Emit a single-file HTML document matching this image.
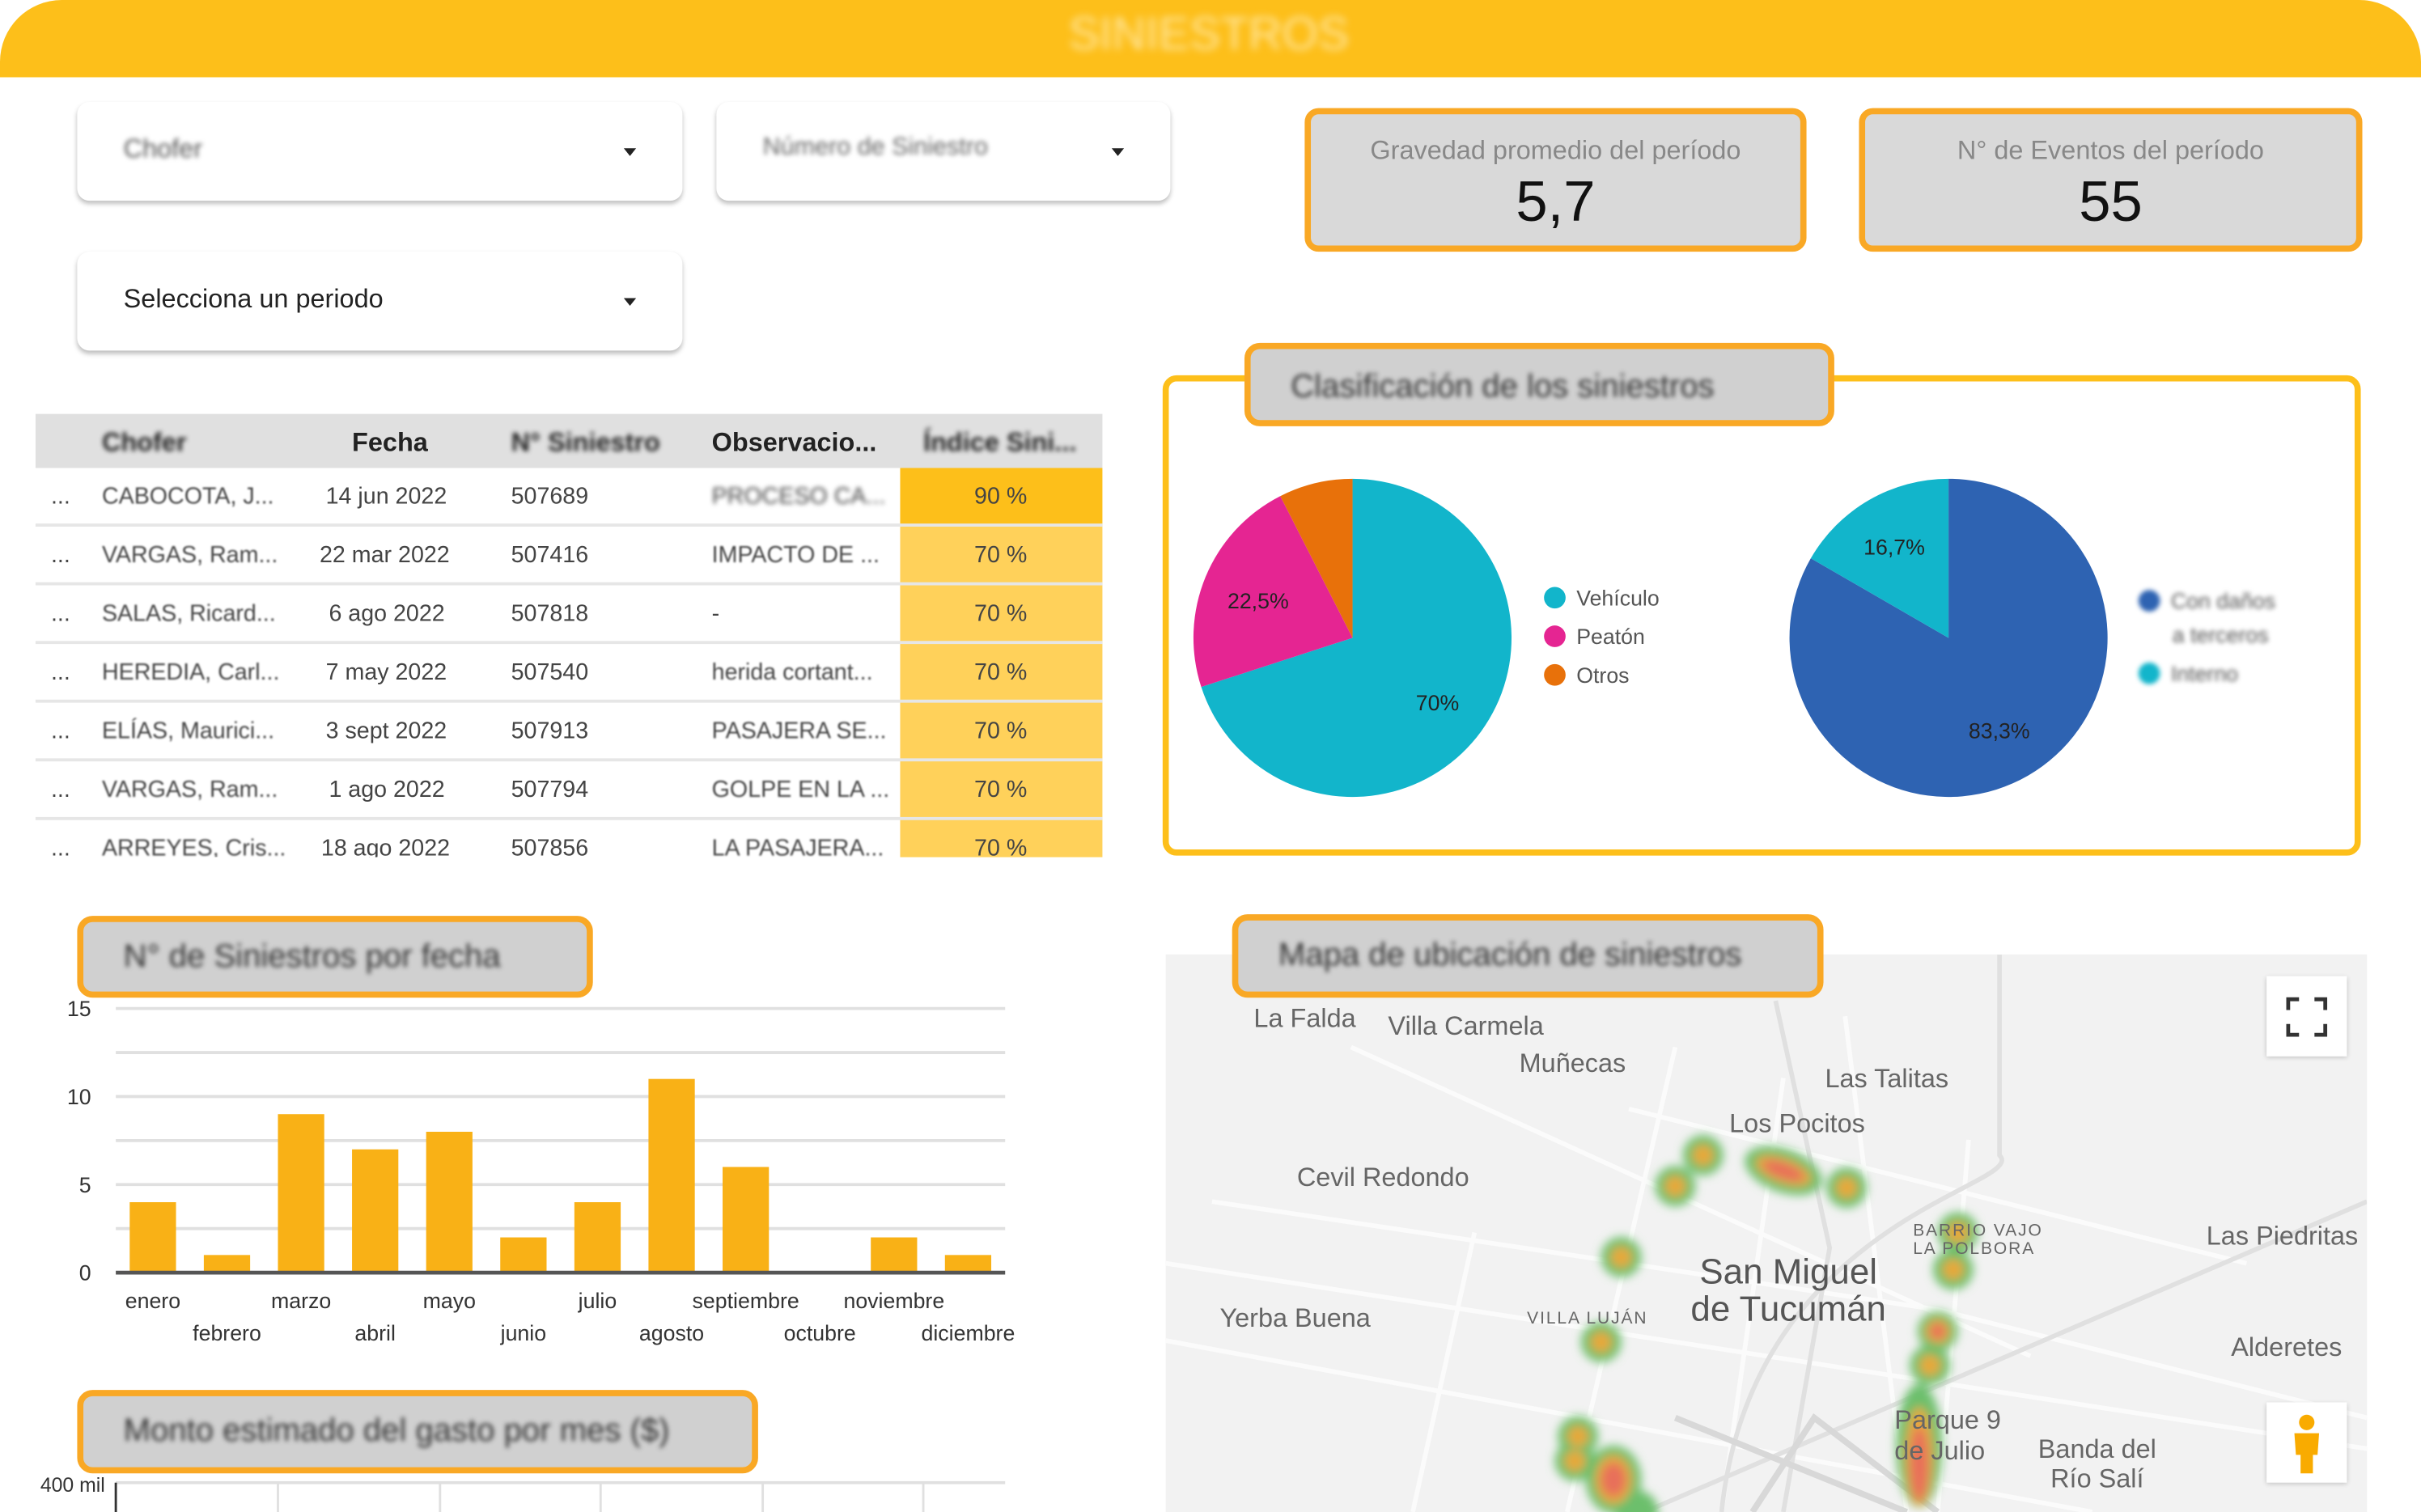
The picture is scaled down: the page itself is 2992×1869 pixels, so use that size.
<!DOCTYPE html>
<html><head><meta charset="utf-8"><style>
*{margin:0;padding:0;box-sizing:border-box}
body{width:2992px;height:1869px;overflow:hidden;background:#fff;font-family:"Liberation Sans",sans-serif}
#w{position:absolute;left:0;top:0;width:1568px;height:979px;transform-origin:0 0;transform:scale(1.90816,1.90909);background:#fff;overflow:hidden}
.a{position:absolute}
.bl{filter:blur(1.6px)}
.sb{filter:blur(0.6px)}
.dd{position:absolute;background:#fff;border-radius:8px;box-shadow:0 2px 3px rgba(0,0,0,.25);font-size:17px;color:#222}
.dd span{position:absolute;left:30px;top:21px}
.dd i{position:absolute;right:30px;top:30px;width:0;height:0;border-left:4px solid transparent;border-right:4px solid transparent;border-top:5px solid #222}
.kpi{position:absolute;background:#d9d9d9;border:4px solid #F9A825;border-radius:9px;text-align:center}
.kpi .l{font-size:17px;color:#888;margin-top:14px}
.kpi .v{font-size:37px;color:#111;margin-top:2px}
.tb{position:absolute;background:#d0d0d0;border:4px solid #F9A825;border-radius:10px;font-size:21px;color:#333;padding-left:26px;line-height:45px}
.row{position:absolute;left:23px;width:691px;height:38px;border-bottom:2px solid #e6e6e6;font-size:15px;color:#444}
.row span{position:absolute;top:10px;white-space:nowrap}
.lg{position:absolute;font-size:14px;color:#555}
.lg b{display:inline-block;width:14px;height:14px;border-radius:50%;vertical-align:-2px;margin-right:7px}
.ml{position:absolute;font-size:17px;color:#666;white-space:nowrap}
</style></head><body><div id="w">
<div class="a" style="left:0;top:0;width:1568px;height:50px;background:#FDBF1A;border-radius:40px 40px 0 0"></div>
<div class="a" style="left:692px;top:6px;font-size:30px;color:#ffe7a0;filter:blur(2.5px)">SINIESTROS</div>

<div class="dd" style="left:50px;top:66px;width:392px;height:64px"><span class="bl" style="color:#555">Chofer</span><i></i></div>
<div class="dd" style="left:464px;top:66px;width:294px;height:64px"><span class="bl" style="color:#666;font-size:16px">Número de Siniestro</span><i></i></div>
<div class="dd" style="left:50px;top:163px;width:392px;height:64px"><span>Selecciona un periodo</span><i></i></div>

<div class="kpi" style="left:845px;top:70px;width:325px;height:93px"><div class="l">Gravedad promedio del período</div><div class="v">5,7</div></div>
<div class="kpi" style="left:1204px;top:70px;width:326px;height:93px"><div class="l">N° de Eventos del período</div><div class="v">55</div></div>

<div class="a" style="left:23px;top:268px;width:691px;height:35px;background:#e0e0e0;font-size:17px;font-weight:bold;color:#222">
<span class="a bl" style="left:43px;top:9px">Chofer</span>
<span class="a" style="left:205px;top:9px">Fecha</span>
<span class="a bl" style="left:308px;top:9px">N° Siniestro</span>
<span class="a" style="left:438px;top:9px">Observacio...</span>
<span class="a bl" style="left:575px;top:9px">Índice Sini...</span>
</div>
<div class="a" style="left:583px;top:303px;width:131px;height:38px;background:#FDBF1A"></div>
<div class="a" style="left:583px;top:341px;width:131px;height:214px;background:#FFD15A"></div>
<div class="row" style="top:303px"><span style="left:10px">...</span><span class="sb" style="left:43px">CABOCOTA, J...</span><span style="left:188px">14 jun 2022</span><span style="left:308px">507689</span><span class="bl" style="left:438px">PROCESO CA...</span><span style="left:608px">90 %</span></div>
<div class="row" style="top:341px"><span style="left:10px">...</span><span class="sb" style="left:43px">VARGAS, Ram...</span><span style="left:184px">22 mar 2022</span><span style="left:308px">507416</span><span class="sb" style="left:438px">IMPACTO DE ...</span><span style="left:608px">70 %</span></div>
<div class="row" style="top:379px"><span style="left:10px">...</span><span class="sb" style="left:43px">SALAS, Ricard...</span><span style="left:190px">6 ago 2022</span><span style="left:308px">507818</span><span style="left:438px">-</span><span style="left:608px">70 %</span></div>
<div class="row" style="top:417px"><span style="left:10px">...</span><span class="sb" style="left:43px">HEREDIA, Carl...</span><span style="left:188px">7 may 2022</span><span style="left:308px">507540</span><span class="sb" style="left:438px">herida cortant...</span><span style="left:608px">70 %</span></div>
<div class="row" style="top:455px"><span style="left:10px">...</span><span class="sb" style="left:43px">ELÍAS, Maurici...</span><span style="left:188px">3 sept 2022</span><span style="left:308px">507913</span><span class="sb" style="left:438px">PASAJERA SE...</span><span style="left:608px">70 %</span></div>
<div class="row" style="top:493px"><span style="left:10px">...</span><span class="sb" style="left:43px">VARGAS, Ram...</span><span style="left:190px">1 ago 2022</span><span style="left:308px">507794</span><span class="sb" style="left:438px">GOLPE EN LA ...</span><span style="left:608px">70 %</span></div>
<div class="row" style="top:531px;height:24px;border:none;overflow:hidden"><span style="left:10px">...</span><span class="sb" style="left:43px">ARREYES, Cris...</span><span style="left:185px">18 ago 2022</span><span style="left:308px">507856</span><span class="sb" style="left:438px">LA PASAJERA...</span><span style="left:608px">70 %</span></div>

<div class="a" style="left:753px;top:243px;width:776px;height:311px;border:4px solid #FDBF1A;border-radius:9px"></div>
<div class="tb" style="left:806px;top:222px;width:382px;height:54px"><span class="bl" style="position:relative;top:2px">Clasificación de los siniestros</span></div>
<svg class="a" style="left:0;top:0" width="1568" height="979">
<path d="M876,413 L876,310 A103,103 0 1,1 778.0,444.8 Z" fill="#12B5CB"/>
<path d="M876,413 L778.0,444.8 A103,103 0 0,1 829.2,321.2 Z" fill="#E52592"/>
<path d="M876,413 L829.2,321.2 A103,103 0 0,1 876,310 Z" fill="#E8710A"/>
<path d="M1262,413 L1262,310 A103,103 0 1,1 1172.8,361.5 Z" fill="#2E63B2"/>
<path d="M1262,413 L1172.8,361.5 A103,103 0 0,1 1262,310 Z" fill="#12B5CB"/>
<g font-size="14" fill="#222" font-family="Liberation Sans">
<text x="917" y="460">70%</text><text x="795" y="394">22,5%</text>
<text x="1207" y="359">16,7%</text><text x="1275" y="478">83,3%</text></g>
</svg>
<div class="lg" style="left:1000px;top:379px"><b style="background:#12B5CB"></b>Vehículo</div>
<div class="lg" style="left:1000px;top:404px"><b style="background:#E52592"></b>Peatón</div>
<div class="lg" style="left:1000px;top:429px"><b style="background:#E8710A"></b>Otros</div>
<div class="lg bl" style="left:1385px;top:381px"><b style="background:#2E63B2"></b>Con daños</div>
<div class="lg bl" style="left:1407px;top:403px">a terceros</div>
<div class="lg bl" style="left:1385px;top:428px"><b style="background:#12B5CB"></b>Interno</div>

<div class="tb" style="left:50px;top:593px;width:334px;height:53px"><span class="bl">N° de Siniestros por fecha</span></div>
<svg class="a" style="left:0;top:0" width="1568" height="979" font-family="Liberation Sans">
<g stroke="#e0e0e0" stroke-width="2">
<line x1="75" x2="651" y1="653" y2="653"/><line x1="75" x2="651" y1="681.5" y2="681.5"/><line x1="75" x2="651" y1="710" y2="710"/><line x1="75" x2="651" y1="738.5" y2="738.5"/><line x1="75" x2="651" y1="767" y2="767"/><line x1="75" x2="651" y1="795.5" y2="795.5"/></g>
<g fill="#F9B116">
<rect x="84" y="778.4" width="30" height="45.6"/><rect x="132" y="812.6" width="30" height="11.4"/><rect x="180" y="721.4" width="30" height="102.6"/><rect x="228" y="744.2" width="30" height="79.8"/><rect x="276" y="732.8" width="30" height="91.2"/><rect x="324" y="801.2" width="30" height="22.8"/><rect x="372" y="778.4" width="30" height="45.6"/><rect x="420" y="698.6" width="30" height="125.4"/><rect x="468" y="755.6" width="30" height="68.4"/><rect x="564" y="801.2" width="30" height="22.8"/><rect x="612" y="812.6" width="30" height="11.4"/></g>
<line x1="75" x2="651" y1="824" y2="824" stroke="#555" stroke-width="2.5"/>
<g font-size="14" fill="#333" text-anchor="end"><text x="59" y="658">15</text><text x="59" y="715">10</text><text x="59" y="772">5</text><text x="59" y="829">0</text></g>
<g font-size="14" fill="#333" text-anchor="middle">
<text x="99" y="847">enero</text><text x="147" y="868">febrero</text><text x="195" y="847">marzo</text><text x="243" y="868">abril</text><text x="291" y="847">mayo</text><text x="339" y="868">junio</text><text x="387" y="847">julio</text><text x="435" y="868">agosto</text><text x="483" y="847">septiembre</text><text x="531" y="868">octubre</text><text x="579" y="847">noviembre</text><text x="627" y="868">diciembre</text></g>
<line x1="75" x2="651" y1="960" y2="960" stroke="#e0e0e0" stroke-width="2"/>
<g stroke="#e0e0e0" stroke-width="1.5"><line x1="180" x2="180" y1="960" y2="979"/><line x1="285" x2="285" y1="960" y2="979"/><line x1="389" x2="389" y1="960" y2="979"/><line x1="494" x2="494" y1="960" y2="979"/><line x1="598" x2="598" y1="960" y2="979"/></g>
<line x1="75" x2="75" y1="960" y2="979" stroke="#333" stroke-width="1.5"/>
<text x="68" y="966" font-size="13" fill="#333" text-anchor="end">400 mil</text>
</svg>
<div class="tb" style="left:50px;top:900px;width:441px;height:54px"><span class="bl">Monto estimado del gasto por mes ($)</span></div>

<div class="a" style="left:755px;top:618px;width:778px;height:361px;background:#f2f2f2;overflow:hidden">
<svg width="778" height="361" style="position:absolute;left:0;top:0">
<defs><filter id="f"><feGaussianBlur stdDeviation="3"/></filter></defs>
<g stroke="#fbfbfb" stroke-width="3" fill="none">
<path d="M0,200 L778,320"/><path d="M0,250 L600,361"/><path d="M30,160 L500,230 L778,300"/><path d="M330,60 L260,361"/><path d="M400,80 L360,361"/><path d="M120,60 L560,260"/><path d="M440,40 L480,361"/><path d="M300,100 L700,200"/><path d="M520,120 L500,361"/><path d="M200,180 L160,361"/>
</g>
<g stroke="#e0e0e0" stroke-width="3" fill="none"><path d="M395,30 L430,190 L400,361"/><path d="M310,361 L778,160"/><path d="M540,0 L540,130 C560,150 380,170 360,361"/></g>
<g stroke="#d8d8d8" stroke-width="4" fill="none"><path d="M380,361 L420,300 L500,361"/><path d="M330,300 L480,361"/></g>
<g filter="url(#f)">
<g fill="#6cbf6c">
<circle cx="348" cy="130" r="13"/><circle cx="330" cy="150" r="13"/><ellipse cx="400" cy="140" rx="26" ry="14" transform="rotate(20 400 140)"/><circle cx="441" cy="151" r="13"/><circle cx="295" cy="196" r="13"/><circle cx="513" cy="180" r="13"/><circle cx="510" cy="204" r="13"/><circle cx="500" cy="244" r="13"/><circle cx="495" cy="266" r="13"/><circle cx="282" cy="251" r="13"/><ellipse cx="488" cy="318" rx="15" ry="40"/><circle cx="267" cy="312" r="13"/><circle cx="265" cy="328" r="13"/><ellipse cx="290" cy="340" rx="18" ry="22"/><circle cx="305" cy="361" r="14"/></g>
<g fill="#e6a93a">
<circle cx="348" cy="130" r="7"/><circle cx="330" cy="150" r="7"/><ellipse cx="400" cy="140" rx="19" ry="8" transform="rotate(20 400 140)"/><circle cx="441" cy="151" r="7"/><circle cx="295" cy="196" r="7"/><circle cx="513" cy="180" r="7"/><circle cx="510" cy="204" r="7"/><circle cx="500" cy="244" r="8"/><circle cx="495" cy="266" r="7"/><circle cx="282" cy="251" r="7"/><ellipse cx="488" cy="325" rx="9" ry="32"/><circle cx="267" cy="312" r="7"/><circle cx="265" cy="328" r="7"/><ellipse cx="290" cy="340" rx="12" ry="16"/></g>
<g fill="#e8705a"><ellipse cx="400" cy="140" rx="14" ry="5" transform="rotate(20 400 140)"/><circle cx="500" cy="244" r="5"/><ellipse cx="488" cy="330" rx="6" ry="24"/><ellipse cx="290" cy="340" rx="8" ry="11"/></g>
</g>
</svg>
<div class="ml" style="left:57px;top:32px">La Falda</div>
<div class="ml" style="left:144px;top:37px">Villa Carmela</div>
<div class="ml" style="left:229px;top:61px">Muñecas</div>
<div class="ml" style="left:427px;top:71px">Las Talitas</div>
<div class="ml" style="left:365px;top:100px">Los Pocitos</div>
<div class="ml" style="left:85px;top:135px">Cevil Redondo</div>
<div class="ml" style="left:674px;top:173px">Las Piedritas</div>
<div class="ml" style="left:484px;top:173px;font-size:11px;line-height:12px;letter-spacing:1px">BARRIO VAJO<br>LA POLBORA</div>
<div class="ml" style="left:340px;top:193px;font-size:23px;line-height:24px;color:#555;text-align:center">San Miguel<br>de Tucumán</div>
<div class="ml" style="left:35px;top:226px">Yerba Buena</div>
<div class="ml" style="left:234px;top:230px;font-size:11px;letter-spacing:1px">VILLA LUJÁN</div>
<div class="ml" style="left:690px;top:245px">Alderetes</div>
<div class="ml" style="left:472px;top:292px;line-height:20px">Parque 9<br>de Julio</div>
<div class="ml" style="left:565px;top:311px;line-height:19px;text-align:center">Banda del<br>Río Salí</div>
<div class="a" style="left:713px;top:14px;width:52px;height:52px;background:#fff;box-shadow:0 1px 3px rgba(0,0,0,.2)">
<svg width="52" height="52"><g stroke="#333" stroke-width="2.5" fill="none"><path d="M14,22 V15 H21"/><path d="M31,15 H38 V22"/><path d="M38,31 V38 H31"/><path d="M21,38 H14 V31"/></g></svg></div>
<div class="a" style="left:713px;top:290px;width:52px;height:52px;background:#fff;box-shadow:0 1px 3px rgba(0,0,0,.2)">
<svg width="52" height="52"><circle cx="26" cy="13" r="5" fill="#F9AB00"/><path d="M18,20 H34 L33,34 H30 V46 H22 V34 H19 Z" fill="#F9AB00"/></svg></div>
</div>
<div class="tb" style="left:798px;top:592px;width:383px;height:54px"><span class="bl">Mapa de ubicación de siniestros</span></div>
</div></body></html>
